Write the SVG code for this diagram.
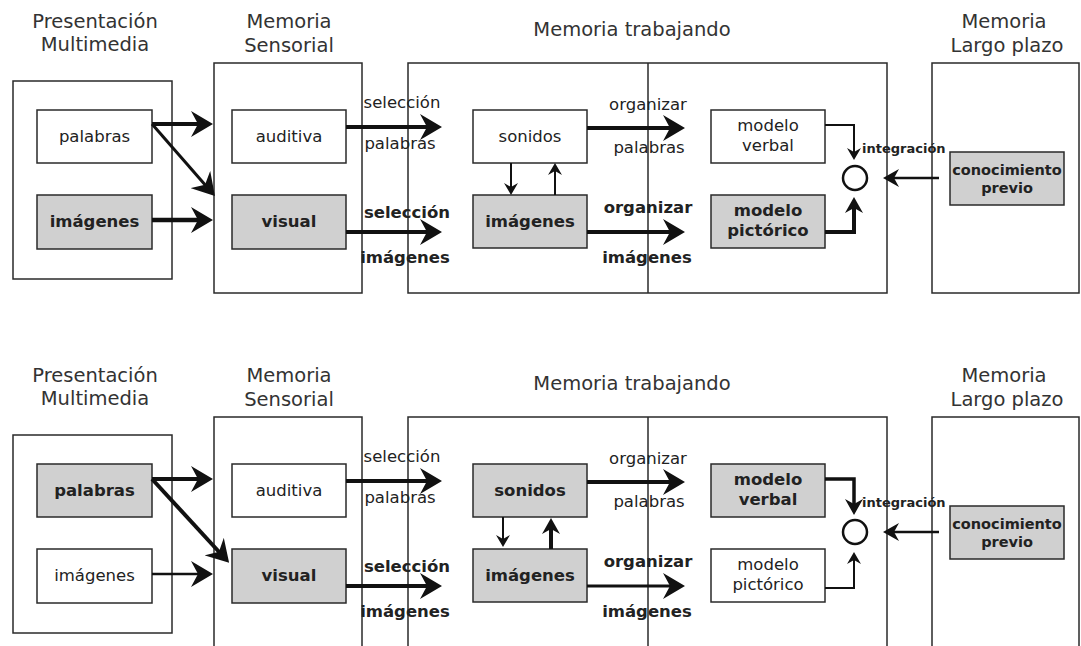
<svg xmlns="http://www.w3.org/2000/svg" width="1081" height="646" viewBox="0 0 1081 646">
<defs>
<style>
text{font-family:"DejaVu Sans","Liberation Sans",sans-serif;fill:#222}
.title{font-size:19.5px;text-anchor:middle;fill:#333}
.lbl{font-size:16.5px;text-anchor:middle}
.b{font-weight:bold}
.int{font-size:13px;font-weight:bold}
.kn{font-size:14.5px;font-weight:bold;text-anchor:middle}
.frame{fill:none;stroke:#2a2a2a;stroke-width:1.5}
.box{fill:#fff;stroke:#2a2a2a;stroke-width:1.5}
.gray{fill:#d0d0d0;stroke:#2a2a2a;stroke-width:1.5}
.c{fill:none;stroke:#111}
</style>
<marker id="big" viewBox="0 0 22 26" refX="10" refY="13" markerWidth="22" markerHeight="26" markerUnits="userSpaceOnUse" orient="auto"><path d="M0,0 L22,13 L0,26 L7,13 Z" fill="#111"/></marker>
<marker id="mid" viewBox="0 0 16 18" refX="7" refY="9" markerWidth="16" markerHeight="18" markerUnits="userSpaceOnUse" orient="auto"><path d="M0,0 L16,9 L0,18 L5,9 Z" fill="#111"/></marker>
<marker id="small" viewBox="0 0 12 14" refX="5" refY="7" markerWidth="12" markerHeight="14" markerUnits="userSpaceOnUse" orient="auto"><path d="M0,0 L12,7 L0,14 L4,7 Z" fill="#111"/></marker>
</defs>
<rect width="1081" height="646" fill="#fff"/>

<!-- ===== TOP PANEL ===== -->
<g id="top-titles">
<text class="title" x="95" y="28">Presentación</text>
<text class="title" x="95" y="51">Multimedia</text>
<text class="title" x="289" y="28">Memoria</text>
<text class="title" x="289" y="52">Sensorial</text>
<text class="title" x="632" y="36">Memoria trabajando</text>
<text class="title" x="1004" y="28">Memoria</text>
<text class="title" x="1007" y="52">Largo plazo</text>
</g>
<g id="top-frames">
<rect class="frame" x="13" y="81" width="159" height="198"/>
<rect class="frame" x="214" y="63" width="148" height="230"/>
<rect class="frame" x="408" y="63" width="479" height="230"/>
<line class="frame" x1="648" y1="63" x2="648" y2="293"/>
<rect class="frame" x="932" y="63" width="147" height="230"/>
</g>
<g id="t-palabras"><rect class="box" x="37" y="110" width="115" height="53"/><text class="lbl" x="94.5" y="142">palabras</text></g>
<g id="t-imagenes"><rect class="gray" x="37" y="195" width="115" height="54"/><text class="lbl b" x="94.5" y="227">imágenes</text></g>
<g id="t-auditiva"><rect class="box" x="232" y="110" width="114" height="53"/><text class="lbl" x="289" y="142">auditiva</text></g>
<g id="t-visual"><rect class="gray" x="232" y="195" width="114" height="54"/><text class="lbl b" x="289" y="227">visual</text></g>
<g id="t-sonidos"><rect class="box" x="473" y="110" width="114" height="53"/><text class="lbl" x="530" y="142">sonidos</text></g>
<g id="t-imagenes-wm"><rect class="gray" x="473" y="195" width="114" height="53"/><text class="lbl b" x="530" y="227">imágenes</text></g>
<g id="t-modelo-verbal"><rect class="box" x="711" y="110" width="114" height="53"/><text class="lbl" x="768" y="131">modelo</text><text class="lbl" x="768" y="151">verbal</text></g>
<g id="t-modelo-pictorico"><rect class="gray" x="711" y="195" width="114" height="53"/><text class="lbl b" x="768" y="216">modelo</text><text class="lbl b" x="768" y="236">pictórico</text></g>
<g id="t-conocimiento"><rect class="gray" x="950" y="152" width="114" height="53"/><text class="kn" x="1007" y="175">conocimiento</text><text class="kn" x="1007" y="193">previo</text></g>
<g id="t-integracion"><circle cx="855" cy="178" r="12" fill="#fff" stroke="#111" stroke-width="2.5"/></g>

<g id="top-connectors">
<line class="c" x1="152" y1="124" x2="201" y2="124" stroke-width="4" marker-end="url(#big)"/>
<line class="c" x1="152" y1="124" x2="207" y2="187" stroke-width="3" marker-end="url(#big)"/>
<line class="c" x1="152" y1="220" x2="201" y2="220" stroke-width="4.5" marker-end="url(#big)"/>
<line class="c" x1="346" y1="127" x2="430" y2="127" stroke-width="4" marker-end="url(#big)"/>
<line class="c" x1="346" y1="232" x2="430" y2="232" stroke-width="4" marker-end="url(#big)"/>
<line class="c" x1="587" y1="128" x2="673" y2="128" stroke-width="4" marker-end="url(#big)"/>
<line class="c" x1="587" y1="232" x2="673" y2="232" stroke-width="4" marker-end="url(#big)"/>
<line class="c" x1="511" y1="163" x2="511" y2="188" stroke-width="2" marker-end="url(#small)"/>
<line class="c" x1="555" y1="195" x2="555" y2="170" stroke-width="2" marker-end="url(#small)"/>
<path class="c" d="M825,125 H854 V153" stroke-width="2" marker-end="url(#small)"/>
<path class="c" d="M825,232 H854 V206" stroke-width="4" marker-end="url(#mid)"/>
<line class="c" x1="939" y1="178" x2="892" y2="178" stroke-width="2.5" marker-end="url(#mid)"/>
</g>
<g id="top-labels">
<text class="lbl" x="402" y="108">selección</text>
<text class="lbl" x="400" y="149">palabras</text>
<text class="lbl b" x="407" y="218">selección</text>
<text class="lbl b" x="405" y="263">imágenes</text>
<text class="lbl" x="648" y="110">organizar</text>
<text class="lbl" x="649" y="153">palabras</text>
<text class="lbl b" x="648" y="213">organizar</text>
<text class="lbl b" x="647" y="263">imágenes</text>
<text class="int" x="862" y="153">integración</text>
</g>

<!-- ===== BOTTOM PANEL ===== -->
<g id="bottom-titles">
<text class="title" x="95" y="382">Presentación</text>
<text class="title" x="95" y="405">Multimedia</text>
<text class="title" x="289" y="382">Memoria</text>
<text class="title" x="289" y="406">Sensorial</text>
<text class="title" x="632" y="390">Memoria trabajando</text>
<text class="title" x="1004" y="382">Memoria</text>
<text class="title" x="1007" y="406">Largo plazo</text>
</g>
<g id="bottom-frames">
<rect class="frame" x="13" y="435" width="159" height="198"/>
<rect class="frame" x="214" y="417" width="148" height="250"/>
<rect class="frame" x="408" y="417" width="479" height="250"/>
<line class="frame" x1="648" y1="417" x2="648" y2="667"/>
<rect class="frame" x="932" y="417" width="147" height="250"/>
</g>
<g id="b-palabras"><rect class="gray" x="37" y="464" width="115" height="53"/><text class="lbl b" x="94.5" y="496">palabras</text></g>
<g id="b-imagenes"><rect class="box" x="37" y="549" width="115" height="54"/><text class="lbl" x="94.5" y="581">imágenes</text></g>
<g id="b-auditiva"><rect class="box" x="232" y="464" width="114" height="53"/><text class="lbl" x="289" y="496">auditiva</text></g>
<g id="b-visual"><rect class="gray" x="232" y="549" width="114" height="54"/><text class="lbl b" x="289" y="581">visual</text></g>
<g id="b-sonidos"><rect class="gray" x="473" y="464" width="114" height="53"/><text class="lbl b" x="530" y="496">sonidos</text></g>
<g id="b-imagenes-wm"><rect class="gray" x="473" y="549" width="114" height="53"/><text class="lbl b" x="530" y="581">imágenes</text></g>
<g id="b-modelo-verbal"><rect class="gray" x="711" y="464" width="114" height="53"/><text class="lbl b" x="768" y="485">modelo</text><text class="lbl b" x="768" y="505">verbal</text></g>
<g id="b-modelo-pictorico"><rect class="box" x="711" y="549" width="114" height="53"/><text class="lbl" x="768" y="570">modelo</text><text class="lbl" x="768" y="590">pictórico</text></g>
<g id="b-conocimiento"><rect class="gray" x="950" y="506" width="114" height="53"/><text class="kn" x="1007" y="529">conocimiento</text><text class="kn" x="1007" y="547">previo</text></g>
<g id="b-integracion"><circle cx="855" cy="532" r="12" fill="#fff" stroke="#111" stroke-width="2.5"/></g>

<g id="bottom-connectors">
<line class="c" x1="152" y1="479" x2="201" y2="479" stroke-width="4" marker-end="url(#big)"/>
<line class="c" x1="152" y1="479" x2="221" y2="554" stroke-width="4" marker-end="url(#big)"/>
<line class="c" x1="152" y1="574" x2="201" y2="574" stroke-width="2.5" marker-end="url(#big)"/>
<line class="c" x1="346" y1="481" x2="430" y2="481" stroke-width="4" marker-end="url(#big)"/>
<line class="c" x1="346" y1="586" x2="430" y2="586" stroke-width="4" marker-end="url(#big)"/>
<line class="c" x1="587" y1="482" x2="673" y2="482" stroke-width="4" marker-end="url(#big)"/>
<line class="c" x1="587" y1="586" x2="673" y2="586" stroke-width="3" marker-end="url(#big)"/>
<line class="c" x1="503" y1="517" x2="503" y2="540" stroke-width="2" marker-end="url(#small)"/>
<line class="c" x1="551" y1="549" x2="551" y2="527" stroke-width="4" marker-end="url(#mid)"/>
<path class="c" d="M825,479 H854 V506" stroke-width="3.5" marker-end="url(#mid)"/>
<path class="c" d="M825,588 H854 V559" stroke-width="2" marker-end="url(#small)"/>
<line class="c" x1="939" y1="532" x2="892" y2="532" stroke-width="2.5" marker-end="url(#mid)"/>
</g>
<g id="bottom-labels">
<text class="lbl" x="402" y="462">selección</text>
<text class="lbl" x="400" y="503">palabras</text>
<text class="lbl b" x="407" y="572">selección</text>
<text class="lbl b" x="405" y="617">imágenes</text>
<text class="lbl" x="648" y="464">organizar</text>
<text class="lbl" x="649" y="507">palabras</text>
<text class="lbl b" x="648" y="567">organizar</text>
<text class="lbl b" x="647" y="617">imágenes</text>
<text class="int" x="862" y="507">integración</text>
</g>
</svg>
